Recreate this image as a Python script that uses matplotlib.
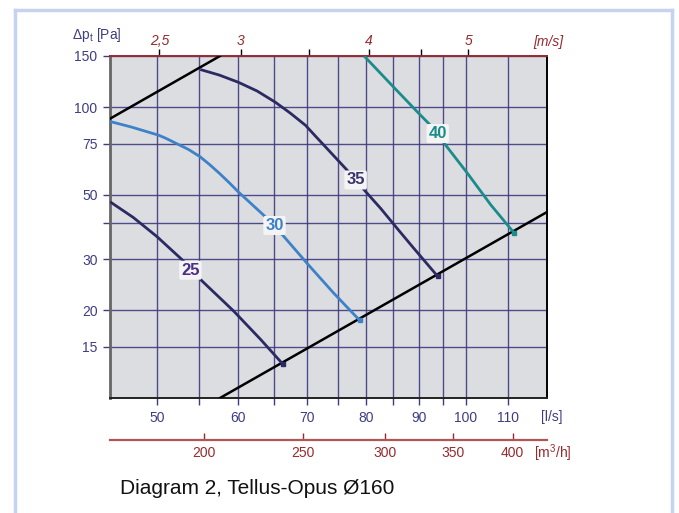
import numpy as np
import matplotlib
matplotlib.use('Agg')
import matplotlib.pyplot as plt
from matplotlib.ticker import NullLocator
from matplotlib.lines import Line2D

plt.rcParams['font.family'] = ['Liberation Sans', 'DejaVu Sans']
plt.rcParams['mathtext.default'] = 'regular'

# fan curves, flow [l/s] vs total pressure [Pa]
flow_25 = [45.0, 47.4, 50.0, 52.9, 55.3, 59.4, 63.1, 66.3]
dp_25 = [47.3, 41.8, 35.9, 29.9, 25.3, 19.9, 15.9, 13.1]

flow_30 = [45.0, 47.2, 50.2, 51.0, 53.7, 55.1, 56.3, 57.6, 58.9, 60.0, 63.5, 66.4, 70.0, 74.3, 78.8]
dp_30 = [89.3, 85.5, 80.1, 78.2, 71.5, 67.5, 63.4, 59.0, 54.7, 51.2, 42.6, 36.1, 29.1, 23.0, 18.5]

flow_35 = [55.1, 57.5, 60.0, 62.6, 65.2, 67.4, 69.8, 71.3, 73.0, 76.6, 79.9, 82.6, 86.1, 89.0, 93.9]
dp_35 = [134.8, 129.0, 121.9, 113.7, 104.1, 95.6, 86.6, 79.8, 73.0, 60.8, 51.2, 44.9, 37.6, 32.7, 26.2]

flow_40 = [79.6, 85.1, 90.0, 92.4, 95.6, 100.4, 105.8, 111.5]
dp_40 = [150.0, 117.0, 95.2, 86.6, 74.0, 59.2, 46.1, 36.9]

# system lines
sys_hi_flow = [45.0, 57.6]
sys_hi_dp = [91.3, 150.0]
sys_lo_flow = [57.6, 120.0]
sys_lo_dp = [10.0, 43.6]

# curve labels
lab_text = ['25', '30', '35', '40']
lab_flow = [53.9, 65.1, 78.1, 93.9]
lab_dp = [27.5, 39.2, 56.2, 81.2]

x_ticks = [50, 55, 60, 65, 70, 75, 80, 85, 90, 95, 100, 110]
x_labels = ['50', '', '60', '', '70', '', '80', '', '90', '', '100', '110']
y_ticks = [15, 20, 30, 40, 50, 75, 100, 150]
y_labels = ['15', '20', '30', '', '50', '75', '100', '150']
ms_ticks = [2.5, 3, 3.5, 4, 4.5, 5]
ms_labels = ['2,5', '3', '', '4', '', '5']
m3h_ticks = [200, 250, 300, 350, 400]
m3h_labels = ['200', '250', '300', '350', '400']

grid_c = '#3e3b80'
txt_c = '#3f3d82'
red_c = '#982a2e'
navy = '#2b2a62'
blue = '#3d82c8'
teal = '#1b8b8b'

fig = plt.figure(figsize=(6.79, 5.13), dpi=100)
ax = fig.add_axes([110/679, 115/513, 437/679, 342/513])
ax.set_facecolor('#dcdde0')
ax.set_xscale('log')
ax.set_yscale('log')
ax.set_xlim(45, 120)
ax.set_ylim(10, 150)

ax.set_xticks(x_ticks, labels=x_labels)
ax.set_yticks(y_ticks, labels=y_labels)
ax.xaxis.set_minor_locator(NullLocator())
ax.yaxis.set_minor_locator(NullLocator())
ax.grid(True, which='major', color=grid_c, lw=1.0, alpha=0.9)
ax.tick_params(axis='both', length=5, width=1.0, color=grid_c, labelcolor=txt_c, labelsize=10)
ax.tick_params(axis='x', pad=4)
ax.tick_params(axis='y', pad=4)

ax.spines['left'].set_color('#666666')
ax.spines['left'].set_linewidth(2)
ax.spines['right'].set_color('black')
ax.spines['right'].set_linewidth(1.4)
ax.spines['bottom'].set_color('#222222')
ax.spines['bottom'].set_linewidth(1.4)
ax.spines['top'].set_color(red_c)
ax.spines['top'].set_linewidth(1.4)

ax.plot(sys_hi_flow, sys_hi_dp, color='black', lw=1.8, zorder=3)
ax.plot(sys_lo_flow, sys_lo_dp, color='black', lw=1.8, zorder=3)

curves = [(flow_25, dp_25, navy), (flow_30, dp_30, blue),
          (flow_35, dp_35, navy), (flow_40, dp_40, teal)]
for fl, dp, c in curves:
    ax.plot(fl, dp, color=c, lw=2, zorder=4, solid_capstyle='butt', solid_joinstyle='round')
    ax.plot(fl[-1], dp[-1], marker='s', ms=3.5, color=c, zorder=5)

lab_colors = ['#4a2f86', blue, '#3a3370', teal]
for t, fx, fy, c in zip(lab_text, lab_flow, lab_dp, lab_colors):
    ax.text(fx, fy, t, color=c, fontsize=12, fontweight='bold', ha='center', va='center',
            zorder=6, bbox=dict(boxstyle='round,pad=0.12', fc='#f4f4f4', ec='none'))

# velocity axis on top (duct diameter 160 mm)
area = np.pi * 0.08 ** 2
top = ax.secondary_xaxis('top', functions=(lambda q: q / 1000 / area, lambda v: v * 1000 * area))
top.set_xticks(ms_ticks, labels=ms_labels)
top.xaxis.set_minor_locator(NullLocator())
top.tick_params(length=5, width=1, color='black', labelcolor=red_c, labelsize=10, pad=1)
for lab in top.get_xticklabels():
    lab.set_fontstyle('italic')
top.spines['top'].set_visible(False)

# m3/h axis below
low = ax.secondary_xaxis(-0.1228, functions=(lambda q: q * 3.6, lambda m: m / 3.6))
low.set_xticks(m3h_ticks, labels=m3h_labels)
low.xaxis.set_minor_locator(NullLocator())
low.xaxis.set_ticks_position('bottom')
low.tick_params(direction='in', length=5, width=1, color=red_c, labelcolor=red_c, labelsize=10, pad=4)
for s in low.spines.values():
    s.set_visible(False)
low.spines['bottom'].set_visible(True)
low.spines['bottom'].set_color('#b05558')
low.spines['bottom'].set_linewidth(1.6)

ax.text(1.0114, -0.0556, '[l/s]', transform=ax.transAxes, color=txt_c, fontsize=10,
        ha='center', va='center')
ax.text(1.0137, -0.1608, '[m$^{3}$/h]', transform=ax.transAxes, color=red_c, fontsize=10,
        ha='center', va='center')
ax.text(1.002, 1.0409, '[m/s]', transform=ax.transAxes, color=red_c, fontsize=10,
        ha='center', va='center', style='italic')
ax.text(-0.087, 1.0614, 'Δp$_{t}$ [Pa]', transform=ax.transAxes, color=txt_c, fontsize=10,
        ha='left', va='center')

fig.text(120/679, 1 - 488/513, 'Diagram 2, Tellus-Opus Ø160', fontsize=15, color='#111111',
         ha='left', va='center')

# light blue frame
fc = '#c6d3ef'
fig.add_artist(Line2D([15/679, 15/679], [0, 1 - 10/513], transform=fig.transFigure, color=fc, lw=2.5))
fig.add_artist(Line2D([15/679, 672/679], [1 - 10/513, 1 - 10/513], transform=fig.transFigure, color=fc, lw=2.5))
fig.add_artist(Line2D([672/679, 672/679], [0, 1 - 10/513], transform=fig.transFigure, color=fc, lw=2.5))

fig.savefig('out.png', dpi=100)
